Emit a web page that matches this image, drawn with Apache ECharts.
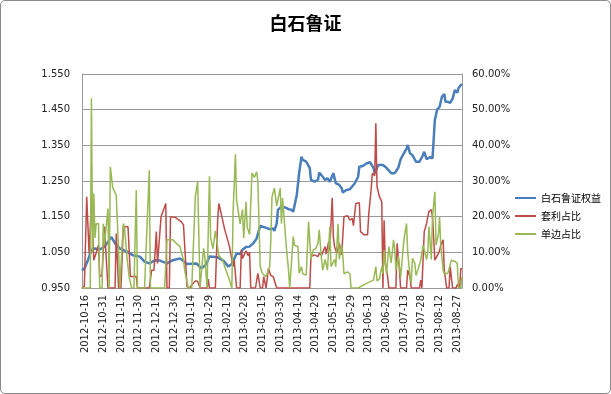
<!DOCTYPE html>
<html>
<head>
<meta charset="utf-8">
<script src="https://cdn.jsdelivr.net/npm/echarts@6/dist/echarts.min.js"></script>
<style>
html,body{margin:0;padding:0;background:#fff;}
#c{position:absolute;left:0;top:0;width:611px;height:394px;}
#frame{position:absolute;left:0;top:0;width:609px;height:392px;border:1px solid #8a8a8a;border-radius:5px;pointer-events:none;}
</style>
</head>
<body>
<div id="c"></div>
<div id="frame"></div>
<script>
// Day offsets are counted from 2012-10-16 (first axis label)
const baseDate = [2012, 9, 16];
const firstDay = -3, lastDay = 319;
const labelStep = 15;

const seriesNames = ['白石鲁证权益', '套利占比', '单边占比'];

const blueDays = [-3,-1,2,5,8,12,16,22,25,29,35,40,46,50,54,59,63,69,74,80,81,86,90,94,98,102,105,110,112,117,121,124,128,131,133,136,139,142,145,148,152,156,159,160,162,163,166,169,172,174,176,179,181,183,184,187,190,191,194,197,198,201,203,205,207,210,212,215,217,218,221,224,228,231,232,235,238,241,244,245,248,252,255,259,262,265,267,269,270,272,273,275,277,280,283,286,287,289,292,294,296,298,300,302,304,305,307,309,311,313,315,316,318,319];
const blueVals = [1.000,1.005,1.028,1.057,1.061,1.058,1.066,1.093,1.075,1.061,1.052,1.042,1.038,1.024,1.019,1.028,1.027,1.019,1.028,1.033,1.030,1.017,1.018,1.019,1.005,1.015,1.038,1.037,1.036,1.026,1.010,1.017,1.047,1.045,1.057,1.065,1.066,1.075,1.089,1.124,1.120,1.115,1.117,1.110,1.131,1.169,1.178,1.176,1.171,1.170,1.164,1.211,1.272,1.318,1.309,1.304,1.286,1.253,1.248,1.253,1.274,1.262,1.253,1.258,1.248,1.272,1.244,1.239,1.230,1.218,1.225,1.227,1.243,1.262,1.290,1.292,1.299,1.303,1.287,1.272,1.295,1.295,1.287,1.272,1.272,1.287,1.311,1.323,1.327,1.341,1.351,1.327,1.323,1.304,1.304,1.323,1.332,1.311,1.317,1.313,1.421,1.451,1.458,1.486,1.494,1.472,1.472,1.469,1.481,1.505,1.498,1.510,1.519,1.522];

const redDays = [-3,-1,1,3,5,7,11,12,14,16,19,25,26,28,30,32,36,38,43,44,54,56,58,60,61,64,68,69,71,72,76,81,83,86,88,93,95,97,103,104,105,110,112,113,118,122,125,126,128,131,132,133,136,138,139,140,144,146,148,150,151,153,155,157,159,162,190,191,194,197,198,200,203,204,206,207,209,210,211,213,215,217,219,222,224,226,227,229,230,232,233,236,239,240,242,243,245,246,247,249,251,252,253,254,256,257,263,264,266,267,272,273,275,276,283,284,285,287,289,290,291,293,294,296,297,299,300,301,303,304,306,308,309,310,311,314,315,317,318,319];
const redVals = [0,0.5,25.6,9.7,23.9,7.8,12,3.2,3.5,17.2,0,0,15.3,0,0,17.2,17.2,3.2,3.2,0,0,5,5,15.8,6.9,20,23.7,0,0,20,19.8,18.6,17.7,0.4,0,2,1.9,0,0,2.5,0,0,19.5,23.7,16.3,11.6,6,7.8,0,0,10.7,8.3,10.4,9,10,0,0,4.1,0,0,3.2,0,5.5,3.5,3.2,0,0,8.8,9.3,8.8,9.7,9.2,11.6,9.5,13,10.5,25.3,14.4,11.6,9.7,12.5,9.3,20,20.3,19,19.5,17.5,23.7,24,23.9,15.8,14.9,14.9,20.9,27.5,32.2,31.5,46.2,28.4,25.6,24.2,0,19,6.9,3.2,0,0,12.5,5,0,0,5,3,0,0,2.2,0,15.8,18.1,20,21.4,22,20,7.8,8,9.7,10.5,12,13.5,5,0,0,6,6,0,0,1,0,5.5,5.3];

const greenDays = [-3,4,5,6,7,8,9,11,12,14,15,16,19,20,21,23,26,28,29,30,32,33,35,37,39,41,43,44,50,54,55,67,69,71,74,77,80,83,84,87,90,93,95,97,100,101,103,105,106,108,110,113,116,119,122,124,125,127,128,131,133,134,136,137,139,141,143,145,146,148,150,153,156,157,158,160,162,165,166,167,170,172,173,176,177,180,181,183,184,187,189,191,193,195,197,198,200,201,203,205,207,208,211,212,214,215,217,218,219,222,224,225,231,238,241,242,244,246,247,249,251,252,253,255,257,259,261,262,263,265,266,267,269,270,272,273,275,276,277,279,280,282,284,286,289,290,291,293,294,296,297,299,300,301,303,304,307,308,310,313,315,316,318,319];
const greenVals = [0,0,53.2,10,26.5,14,18,18.1,0,0,18,12,22.3,0,34,28.2,26,10.7,0,0,18.1,17,9,3,0,0,27.5,0,0,33,0,0,13.5,13.5,13.5,12.5,11.6,7.8,5,0,0,25.6,29.8,0,11.1,9,0,31.3,14,11,16,9,8,5,2.2,0,21,37.5,24.7,18,22,14,24.2,17,15,32.2,31,32.6,30,6,4,3.2,6,13.5,25.6,28,23,28,18,25.2,12,5,0,14.4,12,11.6,4.1,6,4,3.6,18.6,8,10.7,11,12.5,16.3,8,5,8,5,17.2,6,8,6,18,8,12,9,4,4.5,4,0,0,1.3,1.8,2.2,2.2,6,2,2.5,6,4,10.7,4,11.6,7,13.5,11,5,9,6,3,10.7,14,18.1,10,3.2,1.5,8.3,7,3.5,5.5,7.8,12,8,10,17.2,8,20,27,12,15,20,12,5,4.1,4.1,4.1,7.8,7.5,6.9,0,0,3.2];

const leftTicks = {min: 0.95, max: 1.55, step: 0.1};
const rightTicks = {min: 0, max: 60, step: 10};

function dateOf(d) {
  const dt = new Date(Date.UTC(baseDate[0], baseDate[1], baseDate[2] + d));
  return dt.toISOString().slice(0, 10);
}
const categories = [];
for (let d = firstDay; d <= lastDay; d++) categories.push(dateOf(d));

function pairs(days, vals) { return days.map((d, i) => [dateOf(d), vals[i]]); }

const gridColor = '#9a9a9a';
const lblFont = 'DejaVu Sans';

const chart = echarts.init(document.getElementById('c'), null, {renderer: 'canvas'});
chart.setOption({
  animation: false,
  backgroundColor: '#fff',
  title: {
    text: '白石鲁证', left: 'center', top: 9,
    textStyle: {fontFamily: 'Noto Sans CJK SC', fontSize: 18, fontWeight: 'bold', color: '#000'}
  },
  legend: {
    data: seriesNames, orient: 'vertical', left: 510, top: 187,
    icon: 'rect', itemWidth: 21, itemHeight: 2, itemGap: 6,
    textStyle: {fontFamily: 'Noto Sans CJK SC', fontSize: 10, color: '#000', lineHeight: 12}
  },
  grid: {left: 82, right: 149, top: 74, bottom: 106, containLabel: false},
  xAxis: {
    type: 'category', data: categories, boundaryGap: false,
    axisLine: {show: true, lineStyle: {color: gridColor}},
    axisTick: {show: false},
    splitLine: {show: false},
    axisLabel: {
      rotate: 90, margin: 7, fontSize: 10, fontFamily: lblFont, color: '#222',
      interval: (i) => (i + firstDay) % labelStep === 0 && (i + firstDay) >= 0
    }
  },
  yAxis: [
    {
      type: 'value', min: leftTicks.min, max: leftTicks.max, interval: leftTicks.step,
      axisLine: {show: true, lineStyle: {color: gridColor}},
      axisTick: {show: false},
      splitLine: {show: true, lineStyle: {color: gridColor, width: 1}},
      axisLabel: {margin: 12, fontSize: 10, fontFamily: lblFont, color: '#222', formatter: v => v.toFixed(3)}
    },
    {
      type: 'value', position: 'right', min: rightTicks.min, max: rightTicks.max, interval: rightTicks.step,
      axisLine: {show: true, lineStyle: {color: gridColor}},
      axisTick: {show: false},
      splitLine: {show: false},
      axisLabel: {margin: 10, fontSize: 10, fontFamily: lblFont, color: '#222', formatter: v => v.toFixed(2) + '%'}
    }
  ],
  series: [
    {name: seriesNames[0], type: 'line', yAxisIndex: 0, data: pairs(blueDays, blueVals),
     showSymbol: false, symbol: 'none', lineStyle: {color: '#4A7EBB', width: 2.5}, itemStyle: {color: '#4A7EBB'}},
    {name: seriesNames[1], type: 'line', yAxisIndex: 1, data: pairs(redDays, redVals),
     showSymbol: false, symbol: 'none', lineStyle: {color: '#BE4B48', width: 1.5}, itemStyle: {color: '#BE4B48'}},
    {name: seriesNames[2], type: 'line', yAxisIndex: 1, data: pairs(greenDays, greenVals),
     showSymbol: false, symbol: 'none', lineStyle: {color: '#98B954', width: 1.5}, itemStyle: {color: '#98B954'}}
  ]
});
</script>
</body>
</html>
